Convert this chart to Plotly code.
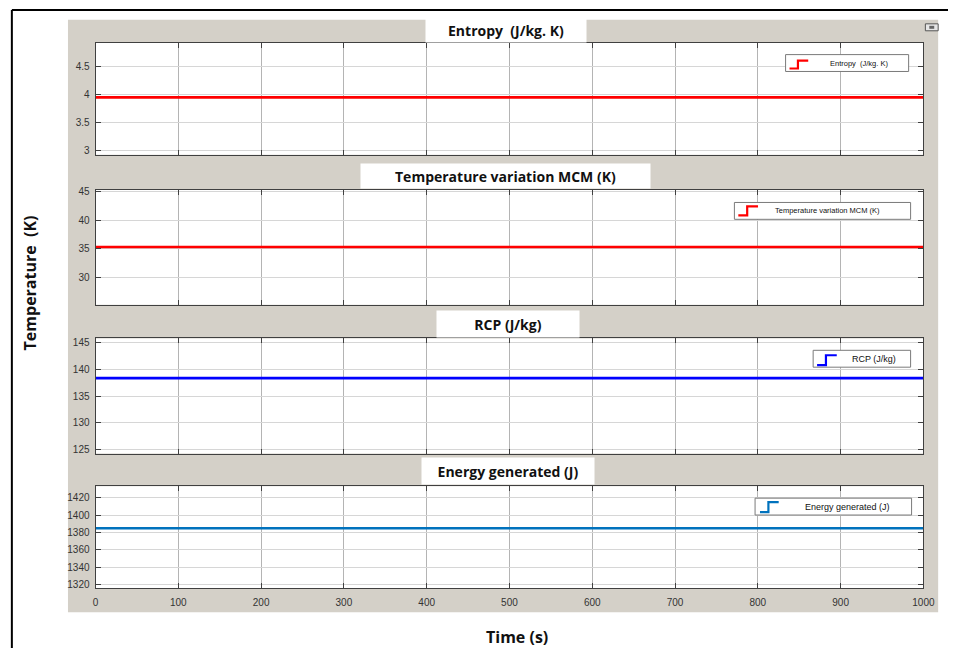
import plotly.graph_objects as go

# ---- data ----
time_s = [0, 1000]
entropy = [3.95, 3.95]
temp_var = [35.3, 35.3]
rcp = [138.4, 138.4]
energy = [1384.9, 1384.9]

titles = ["Entropy  (J/kg. K)", "Temperature variation MCM (K)", "RCP (J/kg)", "Energy generated (J)"]
series_names = ["Entropy  (J/kg. K)", "Temperature variation MCM (K)", "RCP (J/kg)", "Energy generated (J)"]
colors = ["#ff0000", "#ff0000", "#0000ff", "#0072bd"]
y_ranges = [[2.93, 4.92], [25.2, 45.35], [124.26, 145.86], [1315.8, 1433.2]]
y_dticks = [0.5, 5, 5, 20]
x_ticks = [0, 100, 200, 300, 400, 500, 600, 700, 800, 900, 1000]

W, H = 960, 650
def X(px): return px / W
def Y(py): return 1 - py / H

# plot areas in pixels (top, bottom)
plot_left, plot_right = 94, 935
plot_tb = [(40, 153), (188, 304), (338, 454), (487, 590)]

fig = go.Figure()
values = [entropy, temp_var, rcp, energy]
for i in range(4):
    fig.add_trace(go.Scatter(
        x=time_s, y=values[i], mode="lines", line=dict(color=colors[i], width=2.6, shape="hv"),
        name=series_names[i], xaxis="x" if i == 0 else f"x{i+1}", yaxis="y" if i == 0 else f"y{i+1}",
        showlegend=False, hoverinfo="x+y"))

tickfont = dict(family="Liberation Sans, Arial, sans-serif", size=10, color="#333333")
layout = dict(
    width=W, height=H, margin=dict(l=0, r=0, t=0, b=0),
    paper_bgcolor="white", plot_bgcolor="white", showlegend=False,
)
for i in range(4):
    top, bot = plot_tb[i]
    xa = dict(domain=[X(plot_left), X(plot_right)], range=[0, 1000], tickvals=x_ticks,
              showgrid=True, gridcolor="#b4b4b4", gridwidth=1, zeroline=False,
              ticks="inside", ticklen=5, tickcolor="#404040", mirror="ticks",
              showline=True, linecolor="#404040", linewidth=1,
              showticklabels=(i == 3), tickfont=tickfont, ticklabelstandoff=5,
              anchor="y" if i == 0 else f"y{i+1}")
    ya = dict(domain=[Y(bot), Y(top)], range=y_ranges[i], dtick=y_dticks[i],
              showgrid=True, gridcolor="#d6d6d6", gridwidth=1, zeroline=False,
              ticks="inside", ticklen=5, tickcolor="#404040", mirror="ticks",
              showline=True, linecolor="#404040", linewidth=1,
              tickfont=tickfont, ticklabelstandoff=3,
              anchor="x" if i == 0 else f"x{i+1}")
    layout["xaxis" if i == 0 else f"xaxis{i+1}"] = xa
    layout["yaxis" if i == 0 else f"yaxis{i+1}"] = ya

shapes = []
# gray panel
shapes.append(dict(type="rect", xref="paper", yref="paper", x0=X(66), x1=X(950), y0=Y(614), y1=Y(17),
                   fillcolor="#d4d0c8", line=dict(width=0), layer="below"))
# white plot areas
for top, bot in plot_tb:
    shapes.append(dict(type="rect", xref="paper", yref="paper", x0=X(plot_left), x1=X(plot_right),
                       y0=Y(bot), y1=Y(top), fillcolor="white", line=dict(width=0), layer="below"))
# outer black frame lines
shapes.append(dict(type="line", xref="paper", yref="paper", x0=X(9), x1=X(960), y0=Y(7), y1=Y(7),
                   line=dict(color="black", width=2)))
shapes.append(dict(type="line", xref="paper", yref="paper", x0=X(9), x1=X(9), y0=Y(7), y1=Y(650),
                   line=dict(color="black", width=2)))
# small icon top right
shapes.append(dict(type="rect", xref="paper", yref="paper", x0=X(937), x1=X(950), y0=Y(28), y1=Y(21),
                   fillcolor="#e6e6e6", line=dict(color="#555555", width=1)))
shapes.append(dict(type="rect", xref="paper", yref="paper", x0=X(941), x1=X(946), y0=Y(26), y1=Y(23),
                   fillcolor="#666666", line=dict(width=0)))

# legend boxes: (x0, y0, x1, y1), glyph (gx0, gx1, gtop, gbot), text center, font size
legends = [
    ((795, 52, 920, 69), (799, 818, 58, 66), 870, 7.5),
    ((743, 201, 922, 218), (747, 767, 205, 214), 838, 7.5),
    ((823, 350, 922, 367), (827, 847, 355, 365), 885, 9),
    ((764, 499, 923, 516), (769, 788, 503, 513), 858, 9),
]
annotations = []
for i, (box, g, tc, fs) in enumerate(legends):
    x0, y0, x1, y1 = box
    shapes.append(dict(type="rect", xref="paper", yref="paper", x0=X(x0), x1=X(x1), y0=Y(y1), y1=Y(y0),
                       fillcolor="white", line=dict(color="#7a7a7a", width=1)))
    gx0, gx1, gt, gb = g
    gm = gx0 + 0.45 * (gx1 - gx0)
    path = f"M {X(gx0)},{Y(gb)} L {X(gm)},{Y(gb)} L {X(gm)},{Y(gt)} L {X(gx1)},{Y(gt)}"
    shapes.append(dict(type="path", xref="paper", yref="paper", path=path,
                       line=dict(color=colors[i], width=2.2)))
    annotations.append(dict(xref="paper", yref="paper", x=X(tc), y=Y((y0 + y1) / 2), text=series_names[i],
                            showarrow=False, xanchor="center", yanchor="middle",
                            font=dict(family="Liberation Sans, Arial, sans-serif", size=fs, color="#111111")))

# subplot titles in white boxes: (center x, center y, width, height)
title_boxes = [(511, 28, 158, 21), (510, 174, 287, 22), (513, 323, 140, 24), (513, 472, 170, 24)]
for i, (cx, cy, w, h) in enumerate(title_boxes):
    annotations.append(dict(xref="paper", yref="paper", x=X(cx), y=Y(cy), text=f"<b>{titles[i]}</b>",
                            showarrow=False, xanchor="center", yanchor="middle", width=w, height=h,
                            bgcolor="white", align="center", valign="middle",
                            font=dict(family="Open Sans, sans-serif", size=14, color="#111111")))

# axis titles
annotations.append(dict(xref="paper", yref="paper", x=X(27), y=Y(282), text="<b>Temperature  (K)</b>",
                        textangle=-90, showarrow=False, xanchor="center", yanchor="middle",
                        font=dict(family="Open Sans, sans-serif", size=16, color="#111111")))
annotations.append(dict(xref="paper", yref="paper", x=X(522), y=Y(639), text="<b>Time (s)</b>",
                        showarrow=False, xanchor="center", yanchor="middle",
                        font=dict(family="Open Sans, sans-serif", size=16, color="#111111")))

layout["shapes"] = shapes
layout["annotations"] = annotations
fig.update_layout(**layout)
fig.write_html("out.html")
